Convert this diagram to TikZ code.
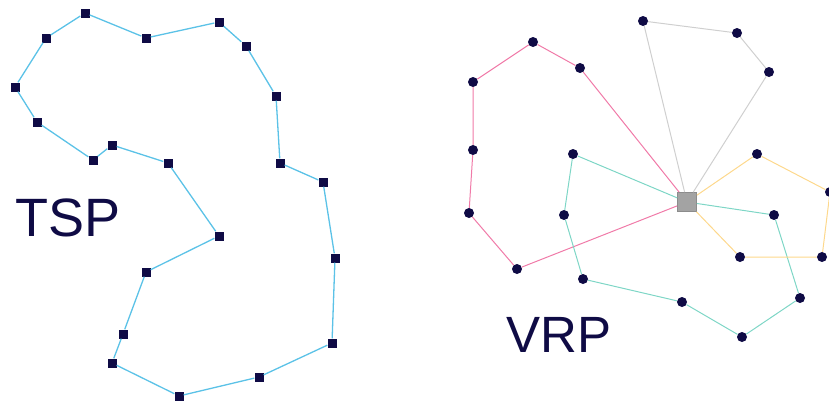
\documentclass[tikz,border=0pt]{standalone}
\usepackage{fontspec}
\setmainfont{Liberation Sans}
\definecolor{navy}{HTML}{0F0B45}
\definecolor{tspline}{HTML}{5BC2E7}
\definecolor{rpink}{HTML}{F07AA8}
\definecolor{rgray}{HTML}{CFCFCF}
\definecolor{rteal}{HTML}{7ED6C6}
\definecolor{ryell}{HTML}{FDD88C}
\definecolor{depotfill}{HTML}{A3A3A3}
\definecolor{depotdraw}{HTML}{8C8C8C}
\begin{document}
\begin{tikzpicture}[x=1pt,y=-1pt,
  city/.style={fill=navy,draw=none,minimum size=9pt,inner sep=0pt,rectangle},
  cust/.style={fill=navy,draw=none,circle,minimum size=10pt,inner sep=0pt},
  depot/.style={fill=depotfill,draw=depotdraw,line width=0.8pt,minimum size=19pt,inner sep=0pt,rectangle},
  tour/.style={tspline,line width=1.3pt},
  route/.style={line width=1pt},
  title/.style={navy,font=\fontsize{54}{54}\selectfont,inner sep=0pt,anchor=base west}]
\useasboundingbox (0,0) rectangle (829,407);
% TSP
\foreach \n/\x/\y in {t1/85/13,t2/146/38,t3/219/22,t4/246/46,t5/276/96,t6/280/163,t7/323/182,t8/335/258,t9/332/343,t10/259/377,t11/179/396,t12/112/363,t13/123/334,t14/146/272,t15/219/236,t16/168/163,t17/112/145,t18/93/160,t19/37/122,t20/15/87,t21/46/38}
  \node[city] (\n) at (\x,\y) {};
\draw[tour] (t1)--(t2)--(t3)--(t4)--(t5)--(t6)--(t7)--(t8)--(t9)--(t10)--(t11)--(t12)--(t13)--(t14)--(t15)--(t16)--(t17)--(t18)--(t19)--(t20)--(t21)--(t1);
\node[title] (tsp) at (15,236) {TSP};
% VRP
\node[depot] (d) at (687,202) {};
\foreach \n/\x/\y in {g1/643/21,g2/737/33,g3/769/72,
  p1/580/68,p2/533/42,p3/473/82,p4/473/150,p5/469/213,p6/517/269,
  c1/573/154,c2/564/215,c3/583/279,c4/682/302,c5/742/337,c6/800/298,c7/774/215,
  y1/757/154,y2/830/192,y3/822/257,y4/740/257}
  \node[cust] (\n) at (\x,\y) {};
\draw[route,rgray] (d)--(g1)--(g2)--(g3)--(d);
\draw[route,rpink] (d)--(p1)--(p2)--(p3)--(p4)--(p5)--(p6)--(d);
\draw[route,rteal] (d)--(c1)--(c2)--(c3)--(c4)--(c5)--(c6)--(c7)--(d);
\draw[route,ryell] (d)--(y1)--(y2)--(y3)--(y4)--(d);
\node[title,font=\fontsize{51}{51}\selectfont] (vrp) at (506,352) {VRP};
\end{tikzpicture}
\end{document}
